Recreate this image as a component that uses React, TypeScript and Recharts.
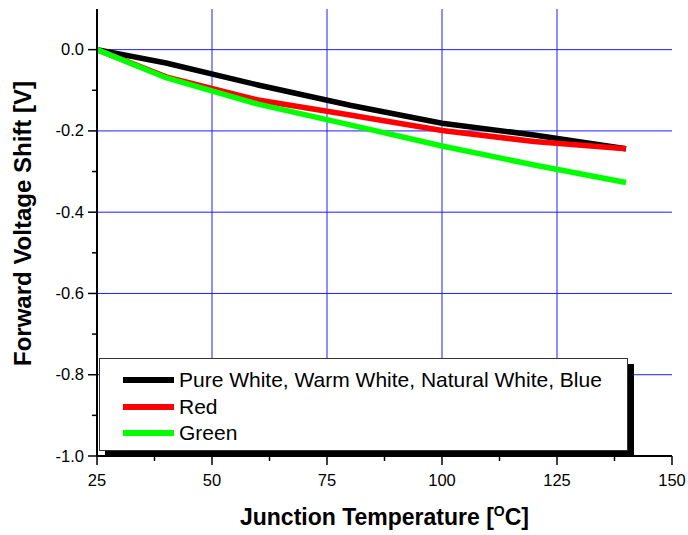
import React from 'react';
import { LineChart, Line, XAxis, YAxis, CartesianGrid, Legend } from 'recharts';

// junction temperature samples (°C)
const temps = [25, 40, 60, 80, 100, 120, 140];

// forward voltage shift (V)
const whiteBlue = [0, -0.033, -0.087, -0.137, -0.181, -0.21, -0.244];
const red = [0, -0.067, -0.124, -0.161, -0.199, -0.226, -0.244];
const green = [0, -0.069, -0.134, -0.185, -0.237, -0.284, -0.327];

const seriesNames = ['Pure White, Warm White, Natural White, Blue', 'Red', 'Green'];

const xTicks = [25, 37.5, 50, 62.5, 75, 87.5, 100, 112.5, 125, 137.5, 150];
const yTicks = [-1, -0.9, -0.8, -0.7, -0.6, -0.5, -0.4, -0.3, -0.2, -0.1, 0];
const xGrid = [50, 75, 100, 125];
const yGrid = [0, -0.2, -0.4, -0.6, -0.8];

const data = temps.map((t, i) => ({
  t,
  white: whiteBlue[i],
  red: red[i],
  green: green[i],
}));

const FONT = '"Liberation Sans", Arial, sans-serif';

const isMajorX = (v: number) => (v - 25) % 25 === 0;
const isMajorY = (v: number) => Math.round(v * 10) % 2 === 0;

// ticks go down on bottom axis (outward) and top axis (inward)
const XTick = (props: any) => {
  const { x, y, payload, showLabel } = props;
  const major = isMajorX(payload.value);
  const len = major ? 9 : 5;
  return (
    <g>
      <line x1={x} x2={x} y1={y} y2={y + len} stroke="#000" strokeWidth={1.5} />
      {showLabel && major && (
        <text x={x} y={y + 30} textAnchor="middle" fontSize={16.5} fontFamily={FONT} fill="#000">
          {payload.value}
        </text>
      )}
    </g>
  );
};

// ticks go left on left axis (outward) and right axis (inward)
const YTick = (props: any) => {
  const { x, y, payload, showLabel } = props;
  const major = isMajorY(payload.value);
  const len = major ? 9 : 5;
  return (
    <g>
      <line x1={x} x2={x - len} y1={y} y2={y} stroke="#000" strokeWidth={1.5} />
      {showLabel && major && (
        <text x={x - 13} y={y + 5.5} textAnchor="end" fontSize={16.5} fontFamily={FONT} fill="#000">
          {payload.value.toFixed(1)}
        </text>
      )}
    </g>
  );
};

const renderLegend = (props: any) => {
  const payload = [...(props.payload || [])].sort(
    (a: any, b: any) => seriesNames.indexOf(a.value) - seriesNames.indexOf(b.value)
  );
  return (
    <div
      style={{
        width: 529,
        height: 93,
        boxSizing: 'border-box',
        border: '1px solid #333',
        background: '#fff',
        boxShadow: '6px 6px 0 #000',
        paddingTop: 8,
        fontFamily: FONT,
        fontSize: 21,
        color: '#000',
      }}
    >
      {payload.map((entry: any) => (
        <div key={entry.value} style={{ display: 'flex', alignItems: 'center', height: 26.5 }}>
          <div style={{ marginLeft: 23, width: 51, height: 6, background: entry.color }} />
          <span style={{ marginLeft: 5, lineHeight: '26px' }}>{entry.value}</span>
        </div>
      ))}
    </div>
  );
};

const XTitle = (props: any) => {
  const { viewBox } = props;
  const cx = viewBox.x + viewBox.width / 2;
  return (
    <text x={cx} y={viewBox.y + 69} textAnchor="middle" fontSize={23} fontWeight="bold" fontFamily={FONT} fill="#000">
      Junction Temperature [
      <tspan dy={-9} fontSize={14}>O</tspan>
      <tspan dy={9}>C]</tspan>
    </text>
  );
};

const YTitle = (props: any) => {
  const { viewBox } = props;
  const cy = viewBox.y + viewBox.height / 2 - 9;
  const x = 31;
  return (
    <text x={x} y={cy} transform={`rotate(-90 ${x} ${cy})`} textAnchor="middle" fontSize={24} fontWeight="bold" fontFamily={FONT} fill="#000">
      Forward Voltage Shift [V]
    </text>
  );
};

const axisLine = { stroke: '#000', strokeWidth: 2 };

const App: React.FC = () => {
  return (
    <div style={{ position: 'absolute', left: 0, top: 0, width: 688, height: 535, background: '#fff' }}>
      <LineChart width={688} height={535} data={data} margin={{ top: 9, right: 16, bottom: 0, left: 0 }}>
        <CartesianGrid
          horizontalValues={yGrid}
          verticalValues={xGrid}
          stroke="#1f1fff"
          strokeWidth={1}
        />
        <XAxis
          dataKey="t"
          type="number"
          domain={[25, 150]}
          ticks={xTicks}
          interval={0}
          height={79}
          tickSize={0}
          tickMargin={0}
          axisLine={axisLine}
          tickLine={false}
          tick={<XTick showLabel />}
          label={<XTitle />}
        />
        <XAxis
          xAxisId="top"
          orientation="top"
          dataKey="t"
          type="number"
          domain={[25, 150]}
          ticks={xTicks}
          interval={0}
          height={0}
          tickSize={0}
          tickMargin={0}
          axisLine={axisLine}
          tickLine={false}
          tick={<XTick showLabel={false} />}
        />
        <YAxis
          type="number"
          domain={[-1, 0.1]}
          ticks={yTicks}
          interval={0}
          width={97}
          tickSize={0}
          tickMargin={0}
          axisLine={axisLine}
          tickLine={false}
          tick={<YTick showLabel />}
          label={<YTitle />}
        />
        <YAxis
          yAxisId="right"
          orientation="right"
          type="number"
          domain={[-1, 0.1]}
          ticks={yTicks}
          interval={0}
          width={0}
          tickSize={0}
          tickMargin={0}
          axisLine={axisLine}
          tickLine={false}
          tick={<YTick showLabel={false} />}
        />
        <Line type="linear" dataKey="white" name={seriesNames[0]} stroke="#000000" strokeWidth={5.5} dot={false} isAnimationActive={false} />
        <Line type="linear" dataKey="red" name={seriesNames[1]} stroke="#ff0000" strokeWidth={5.5} dot={false} isAnimationActive={false} />
        <Line type="linear" dataKey="green" name={seriesNames[2]} stroke="#00ff00" strokeWidth={5.5} dot={false} isAnimationActive={false} />
        <Legend
          layout="horizontal"
          verticalAlign="middle"
          align="center"
          content={renderLegend}
          wrapperStyle={{ left: 99, top: 358, width: 529, height: 93 }}
        />
      </LineChart>
    </div>
  );
};

export default App;
